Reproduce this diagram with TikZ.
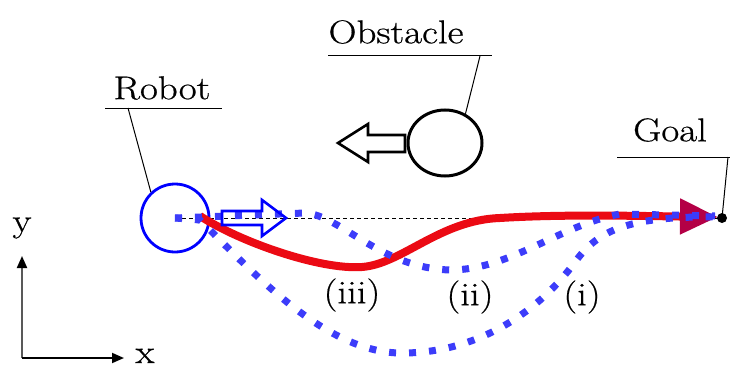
\documentclass[tikz,border=0pt]{standalone}
\usepackage{fontspec}
\setmainfont{Latin Modern Roman}[FakeStretch=1.18,FakeBold=0.6]
\usetikzlibrary{arrows.meta,shapes.geometric}
\definecolor{dotblue}{RGB}{60,60,250}
\definecolor{pathred}{RGB}{235,10,20}
\definecolor{tipred}{RGB}{180,0,70}
\begin{document}
\begin{tikzpicture}[x=1pt,y=-1pt,
  lbl/.style={font=\fontsize{33}{38}\selectfont, inner sep=0pt},
  leader/.style={line width=1pt, black},
  dotpath/.style={dotblue, line width=7pt, dash pattern=on 7pt off 13pt},
  hollow/.style={line width=2.6pt, line join=miter}]
\useasboundingbox (0,0) rectangle (730,369);
% nodes
\node[circle, draw=blue, line width=2.8pt, minimum size=68pt, inner sep=0pt] (robot) at (175,218) {};
\node[ellipse, draw=black, line width=3pt, minimum width=74pt, minimum height=66pt, inner sep=0pt] (obst) at (445,143) {};
\node[circle, fill=black, minimum size=10pt, inner sep=0pt] (goal) at (722,218) {};
% reference dashed line
\draw[black, line width=0.9pt, dash pattern=on 4pt off 3pt] (robot.center) -- (goal.center);
% red path (iii)
\draw[pathred, line width=8pt, -{Triangle[length=38pt,width=34pt,color=tipred]}]
  (200,216) .. controls (240,242) and (320,270) .. (362,267)
  .. controls (402,264) and (440,220) .. (500,218)
  .. controls (565,214) and (640,216) .. (718,217);
% dotted path (i)
\draw[dotpath] (robot.center) -- (200,220)
  .. controls (260,280) and (330,355) .. (405,353)
  .. controls (480,352) and (540,310) .. (575,262)
  .. controls (597,232) and (625,216) .. (715,217);
% dotted path (ii)
\draw[dotpath] (robot.center) -- (305,213)
  .. controls (340,215) and (380,268) .. (450,270)
  .. controls (510,270) and (560,225) .. (620,214)
  -- (715,216);
% robot motion arrow
\draw[blue, hollow] (222,211) -- (262,211) -- (262,200) -- (286,218) -- (262,236) -- (262,225) -- (222,225) -- cycle;
% obstacle motion arrow
\draw[black, hollow] (405,135) -- (368,135) -- (368,124) -- (338,143) -- (368,162) -- (368,152) -- (405,152) -- cycle;
% labels
\node[lbl] (robotlbl) at (162,88) {Robot};
\draw[leader] (105,108) -- (222,108);
\coordinate (rl) at (128,108);
\draw[leader] (rl) -- (robot.133);
\node[lbl] (obstlbl) at (396,32) {Obstacle};
\draw[leader] (328,56) -- (492,56);
\coordinate (ol) at (480,56);
\draw[leader] (ol) -- (obst.55);
\node[lbl] (goallbl) at (670,130) {Goal};
\draw[leader] (617,157) -- (730,157);
\coordinate (gl) at (728,157);
\draw[leader] (gl) -- (goal.center);
\node[lbl] (l3) at (352,295) {(iii)};
\node[lbl] (l2) at (470,297) {(ii)};
\node[lbl] (l1) at (582,297) {(i)};
% axes
\coordinate (origin) at (22,358);
\coordinate (yend) at (22,256);
\coordinate (xend) at (124,358);
\draw[gray!70!black, line width=2pt, -{Triangle[length=12pt,width=10pt,color=black]}] (origin) -- (yend);
\draw[black, line width=1.8pt, -{Triangle[length=12pt,width=10pt]}] (origin) -- (xend);
\node[lbl] (ylbl) at (22,228) {y};
\node[lbl, anchor=base] (xlbl) at (145,363) {x};
\end{tikzpicture}
\end{document}
